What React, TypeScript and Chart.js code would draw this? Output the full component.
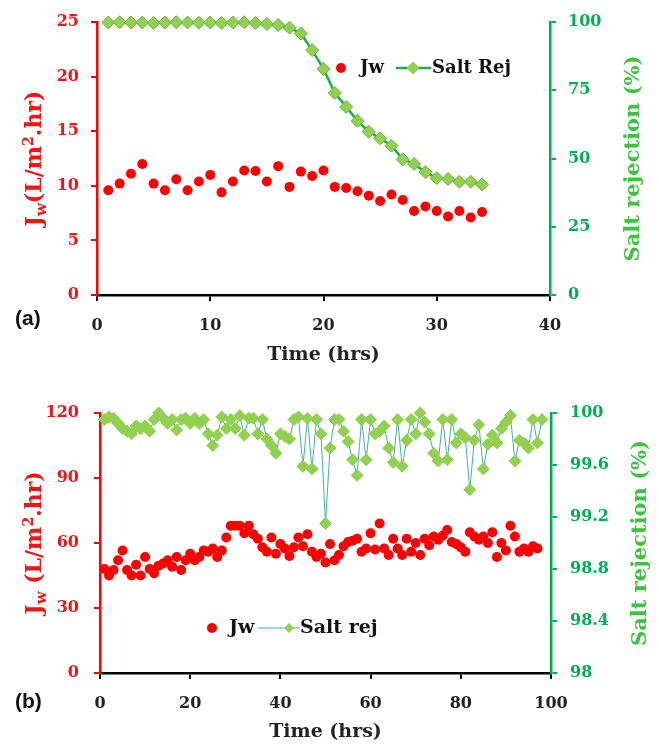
import React, { useEffect, useRef } from "react";
import { Chart, registerables } from "chart.js";
Chart.register(...registerables);

// ---------- Panel (a) data ----------
const hoursA = [1, 2, 3, 4, 5, 6, 7, 8, 9, 10, 11, 12, 13, 14, 15, 16, 17, 18, 19, 20, 21, 22, 23, 24, 25, 26, 27, 28, 29, 30, 31, 32, 33, 34];
const jwA = [9.6, 10.2, 11.1, 12.0, 10.2, 9.6, 10.6, 9.6, 10.4, 11.0, 9.4, 10.4, 11.4, 11.35, 10.4, 11.8, 9.9, 11.3, 10.9, 11.4, 9.9, 9.8, 9.5, 9.1, 8.6, 9.2, 8.7, 7.7, 8.1, 7.7, 7.2, 7.7, 7.1, 7.6];
const saltRejA = [99.8, 99.9, 99.8, 99.8, 99.6, 99.8, 99.9, 99.8, 99.7, 99.8, 99.7, 99.8, 99.9, 99.6, 99.3, 98.9, 97.9, 95.8, 89.7, 82.8, 74.0, 68.9, 63.8, 59.8, 57.4, 54.7, 49.7, 48.0, 45.0, 42.8, 42.5, 41.5, 41.5, 40.5];
const xTicksA = [0, 10, 20, 30, 40];
const jwTicksA = [0, 5, 10, 15, 20, 25];
const saltTicksA = [0, 25, 50, 75, 100];

// ---------- Panel (b) data ----------
const hoursB = [1, 2, 3, 4, 5, 6, 7, 8, 9, 10, 11, 12, 13, 14, 15, 16, 17, 18, 19, 20, 21, 22, 23, 24, 25, 26, 27, 28, 29, 30, 31, 32, 33, 34, 35, 36, 37, 38, 39, 40, 41, 42, 43, 44, 45, 46, 47, 48, 49, 50, 51, 52, 53, 54, 55, 56, 57, 58, 59, 60, 61, 62, 63, 64, 65, 66, 67, 68, 69, 70, 71, 72, 73, 74, 75, 76, 77, 78, 79, 80, 81, 82, 83, 84, 85, 86, 87, 88, 89, 90, 91, 92, 93, 94, 95, 96, 97];
const jwB = [48, 45, 47.5, 52, 56.5, 47.5, 45, 50, 45, 53.5, 48, 46, 49.5, 50.5, 52, 49, 53.5, 47.5, 52, 55, 52, 53.5, 56.5, 56, 57.5, 53.5, 56.5, 62.5, 68, 68, 68, 64.5, 68, 64, 62, 58, 56, 62.5, 55, 59.5, 57.5, 54, 58, 62.5, 58.5, 64, 56, 53.5, 55, 51, 59.5, 52, 54.5, 58.5, 60.5, 61, 62, 56, 57.5, 64.5, 57, 69, 57.5, 54.5, 62, 57.5, 54.5, 62, 56, 60, 54.5, 62, 59, 63, 61.5, 63.5, 66, 60.5, 59.5, 58, 56, 65, 63, 61.5, 63, 60, 65, 53.5, 60, 56.5, 68, 63, 56, 57.5, 56, 58.5, 57.5];
const hoursSaltB = [1, 2, 3, 4, 5, 6, 7, 8, 9, 10, 11, 12, 13, 14, 15, 16, 17, 18, 19, 20, 21, 22, 23, 24, 25, 26, 27, 28, 29, 30, 31, 32, 33, 34, 35, 36, 37, 38, 39, 40, 41, 42, 43, 44, 45, 46, 47, 48, 49, 50, 51, 52, 53, 54, 55, 56, 57, 58, 59, 60, 61, 62, 63, 64, 65, 66, 67, 68, 69, 70, 71, 72, 73, 74, 75, 76, 77, 78, 79, 80, 81, 82, 83, 84, 85, 86, 87, 88, 89, 90, 91, 92, 93, 94, 95, 96, 97, 98];
const saltRejB = [99.95, 99.97, 99.96, 99.92, 99.88, 99.86, 99.84, 99.9, 99.88, 99.9, 99.86, 99.95, 100.0, 99.96, 99.92, 99.95, 99.87, 99.95, 99.96, 99.92, 99.96, 99.92, 99.95, 99.84, 99.75, 99.83, 99.97, 99.88, 99.95, 99.88, 99.98, 99.83, 99.96, 99.96, 99.84, 99.95, 99.8, 99.75, 99.69, 99.84, 99.82, 99.8, 99.95, 99.97, 99.59, 99.96, 99.57, 99.95, 99.84, 99.15, 99.73, 99.95, 99.95, 99.86, 99.78, 99.64, 99.52, 99.95, 99.64, 99.95, 99.84, 99.86, 99.9, 99.73, 99.62, 99.95, 99.59, 99.79, 99.95, 99.84, 100.0, 99.93, 99.84, 99.69, 99.63, 99.95, 99.64, 99.95, 99.77, 99.84, 99.81, 99.41, 99.79, 99.91, 99.57, 99.76, 99.83, 99.77, 99.88, 99.93, 99.98, 99.63, 99.79, 99.77, 99.73, 99.95, 99.77, 99.95];
const xTicksB = [0, 20, 40, 60, 80, 100];
const jwTicksB = [0, 30, 60, 90, 120];
const saltTicksB = [98, 98.4, 98.8, 99.2, 99.6, 100];

// ---------- styles ----------
const SERIF = '"DejaVu Serif", serif';
const RED = "#FF0000";
const RED_TEXT = "#EE1515";
const GREEN_AXIS = "#00B050";
const GREEN_TITLE = "#3CC43C";
const DIAMOND = "#92D050";
const W = 659;
const H = 372;

type Part = { text: string; size: number; dy: number };
type Spec = {
  leftParts: Part[];
  leftX: number;
  rightText: string;
  rightX: number;
  rightSize: number;
  label: string;
  labelX: number;
  labelY: number;
  legY: number;
  dotX: number;
  jwX: number;
  lineX0: number;
  lineX1: number;
  diamX: number;
  saltX: number;
  saltText: string;
  lineColor: string;
  lineWidth: number;
  diamR: number;
  legSize: number;
};

function overlayPlugin(spec: Spec) {
  return {
    id: "overlay",
    afterDraw(chart: any) {
      const ctx = chart.ctx as CanvasRenderingContext2D;
      const ca = chart.chartArea;
      const cy = (ca.top + ca.bottom) / 2;
      ctx.save();
      // left rotated title with sub/superscript
      ctx.translate(spec.leftX, cy);
      ctx.rotate(-Math.PI / 2);
      const widths = spec.leftParts.map((p) => {
        ctx.font = `bold ${p.size}px ${SERIF}`;
        return ctx.measureText(p.text).width;
      });
      const total = widths.reduce((a, b) => a + b, 0);
      const base = spec.leftParts[0].size * 0.36;
      let x = -total / 2;
      ctx.fillStyle = RED_TEXT;
      ctx.textBaseline = "alphabetic";
      ctx.textAlign = "left";
      spec.leftParts.forEach((p, i) => {
        ctx.font = `bold ${p.size}px ${SERIF}`;
        ctx.fillText(p.text, x, base + p.dy);
        x += widths[i];
      });
      ctx.restore();

      // right rotated title
      ctx.save();
      ctx.translate(spec.rightX, cy);
      ctx.rotate(-Math.PI / 2);
      ctx.font = `bold ${spec.rightSize}px ${SERIF}`;
      ctx.fillStyle = GREEN_TITLE;
      ctx.textAlign = "center";
      ctx.textBaseline = "middle";
      ctx.fillText(spec.rightText, 0, 0);
      ctx.restore();

      // panel label
      ctx.save();
      ctx.font = 'bold 21px "Liberation Sans", sans-serif';
      ctx.fillStyle = "#111";
      ctx.textAlign = "left";
      ctx.textBaseline = "middle";
      ctx.fillText(spec.label, spec.labelX, spec.labelY);
      ctx.restore();

      // legend
      ctx.save();
      const ly = spec.legY;
      ctx.fillStyle = RED;
      ctx.beginPath();
      ctx.arc(spec.dotX, ly, 5, 0, Math.PI * 2);
      ctx.fill();
      ctx.strokeStyle = spec.lineColor;
      ctx.lineWidth = spec.lineWidth;
      ctx.beginPath();
      ctx.moveTo(spec.lineX0, ly);
      ctx.lineTo(spec.lineX1, ly);
      ctx.stroke();
      const r = spec.diamR;
      ctx.fillStyle = DIAMOND;
      ctx.beginPath();
      ctx.moveTo(spec.diamX, ly - r);
      ctx.lineTo(spec.diamX + r, ly);
      ctx.lineTo(spec.diamX, ly + r);
      ctx.lineTo(spec.diamX - r, ly);
      ctx.closePath();
      ctx.fill();
      ctx.font = `bold ${spec.legSize}px ${SERIF}`;
      ctx.fillStyle = "#111";
      ctx.textAlign = "left";
      ctx.textBaseline = "middle";
      ctx.fillText("Jw", spec.jwX, ly);
      ctx.fillText(spec.saltText, spec.saltX, ly);
      ctx.restore();
    },
  };
}

const tickFont = { family: SERIF, weight: "bold" as const, size: 16 };

function makeConfig(p: {
  hoursJw: number[];
  jw: number[];
  hoursSalt: number[];
  salt: number[];
  xTicks: number[];
  jwTicks: number[];
  saltTicks: number[];
  padTop: number;
  leftW: number;
  rightW: number;
  xH: number;
  saltLine: string;
  saltLineW: number;
  diamR: number;
  diamBorder: string;
  yPad: number;
  y1Pad: number;
  titleBottom: number;
  spec: Spec;
}) {
  const xMin = p.xTicks[0];
  const xMax = p.xTicks[p.xTicks.length - 1];
  return {
    type: "scatter" as const,
    data: {
      datasets: [
        {
          label: "Jw",
          data: p.hoursJw.map((h, i) => ({ x: h, y: p.jw[i] })),
          yAxisID: "y",
          showLine: false,
          pointStyle: "circle",
          pointRadius: 5,
          pointBackgroundColor: RED,
          pointBorderColor: RED,
          pointBorderWidth: 0,
          clip: false,
        },
        {
          label: "Salt Rej",
          data: p.hoursSalt.map((h, i) => ({ x: h, y: p.salt[i] })),
          yAxisID: "y1",
          showLine: true,
          borderColor: p.saltLine,
          borderWidth: p.saltLineW,
          tension: 0,
          pointStyle: "rectRot",
          pointRadius: p.diamR,
          pointBackgroundColor: DIAMOND,
          pointBorderColor: p.diamBorder,
          pointBorderWidth: 1,
          clip: false,
        },
      ],
    },
    options: {
      responsive: false,
      animation: false as const,
      events: [],
      layout: { padding: { top: p.padTop, left: 0, right: 0, bottom: 0 } },
      plugins: { legend: { display: false }, tooltip: { enabled: false } },
      scales: {
        x: {
          type: "linear" as const,
          min: xMin,
          max: xMax,
          afterBuildTicks: (s: any) => {
            s.ticks = p.xTicks.map((v) => ({ value: v }));
          },
          afterFit: (s: any) => {
            s.height = p.xH;
          },
          border: { color: "#000", width: 2.5 },
          grid: { drawOnChartArea: false, color: "#000", lineWidth: 2, tickLength: 6 },
          ticks: { color: "#222", font: tickFont, padding: 15, maxRotation: 0 },
          title: {
            display: true,
            text: "Time (hrs)",
            color: "#222",
            font: { family: SERIF, weight: "bold" as const, size: 19 },
            padding: { top: 0, bottom: p.titleBottom },
          },
        },
        y: {
          type: "linear" as const,
          position: "left" as const,
          min: p.jwTicks[0],
          max: p.jwTicks[p.jwTicks.length - 1],
          afterBuildTicks: (s: any) => {
            s.ticks = p.jwTicks.map((v) => ({ value: v }));
          },
          afterFit: (s: any) => {
            s.width = p.leftW;
          },
          border: { color: RED, width: 2.5 },
          grid: { drawOnChartArea: false, color: RED, lineWidth: 2, tickLength: 6 },
          ticks: { color: RED_TEXT, font: tickFont, padding: p.yPad },
        },
        y1: {
          type: "linear" as const,
          position: "right" as const,
          min: p.saltTicks[0],
          max: p.saltTicks[p.saltTicks.length - 1],
          afterBuildTicks: (s: any) => {
            s.ticks = p.saltTicks.map((v) => ({ value: v }));
          },
          afterFit: (s: any) => {
            s.width = p.rightW;
          },
          border: { color: GREEN_AXIS, width: 2.5 },
          grid: { drawOnChartArea: false, color: GREEN_AXIS, lineWidth: 2, tickLength: 6 },
          ticks: {
            color: GREEN_AXIS,
            font: tickFont,
            padding: p.y1Pad,
            callback: (v: any) => String(Math.round(Number(v) * 10) / 10),
          },
        },
      },
    },
    plugins: [overlayPlugin(p.spec)],
  };
}

export default function App() {
  const refA = useRef<HTMLCanvasElement>(null);
  const refB = useRef<HTMLCanvasElement>(null);

  useEffect(() => {
    const cfgA = makeConfig({
      hoursJw: hoursA,
      jw: jwA,
      hoursSalt: hoursA,
      salt: saltRejA,
      xTicks: xTicksA,
      jwTicks: jwTicksA,
      saltTicks: saltTicksA,
      padTop: 22,
      leftW: 97,
      rightW: 109,
      xH: 77,
      saltLine: "#1AAF4A",
      saltLineW: 2.5,
      diamR: 6.5,
      diamBorder: "#6FB43A",
      yPad: 12,
      y1Pad: 12,
      titleBottom: 6,
      spec: {
        leftParts: [
          { text: "J", size: 22, dy: 0 },
          { text: "w", size: 15, dy: 5 },
          { text: "(L/m", size: 22, dy: 0 },
          { text: "2", size: 14, dy: -8 },
          { text: ".hr)", size: 22, dy: 0 },
        ],
        leftX: 33,
        rightText: "Salt rejection (%)",
        rightX: 634,
        rightSize: 21,
        label: "(a)",
        labelX: 15,
        labelY: 319,
        legY: 68,
        dotX: 341,
        jwX: 360,
        lineX0: 396,
        lineX1: 431,
        diamX: 413,
        saltX: 432,
        saltText: "Salt Rej",
        lineColor: "#1AAF4A",
        lineWidth: 2.5,
        diamR: 6.5,
        legSize: 18,
      },
    });
    const cfgB = makeConfig({
      hoursJw: hoursB,
      jw: jwB,
      hoursSalt: hoursSaltB,
      salt: saltRejB,
      xTicks: xTicksB,
      jwTicks: jwTicksB,
      saltTicks: saltTicksB,
      padTop: 41,
      leftW: 100,
      rightW: 108,
      xH: 71,
      saltLine: "#45AFA0",
      saltLineW: 1,
      diamR: 6,
      diamBorder: DIAMOND,
      yPad: 15,
      y1Pad: 13,
      titleBottom: 1,
      spec: {
        leftParts: [
          { text: "J", size: 22, dy: 0 },
          { text: "w", size: 15, dy: 5 },
          { text: " (L/m", size: 22, dy: 0 },
          { text: "2", size: 14, dy: -8 },
          { text: ".hr)", size: 22, dy: 0 },
        ],
        leftX: 33,
        rightText: "Salt rejection (%)",
        rightX: 641,
        rightSize: 21,
        label: "(b)",
        labelX: 15,
        labelY: 330,
        legY: 256,
        dotX: 212,
        jwX: 229,
        lineX0: 258,
        lineX1: 299,
        diamX: 289,
        saltX: 300,
        saltText: "Salt rej",
        lineColor: "#45AFA0",
        lineWidth: 1,
        diamR: 5,
        legSize: 19,
      },
    });
    const a = new Chart(refA.current as HTMLCanvasElement, cfgA as any);
    const b = new Chart(refB.current as HTMLCanvasElement, cfgB as any);
    return () => {
      a.destroy();
      b.destroy();
    };
  }, []);

  return (
    <div style={{ position: "absolute", left: 0, top: 0, width: W, height: 2 * H, background: "#fff" }}>
      <canvas ref={refA} width={W} height={H} style={{ position: "absolute", left: 0, top: 0 }} />
      <canvas ref={refB} width={W} height={H} style={{ position: "absolute", left: 0, top: H }} />
    </div>
  );
}
